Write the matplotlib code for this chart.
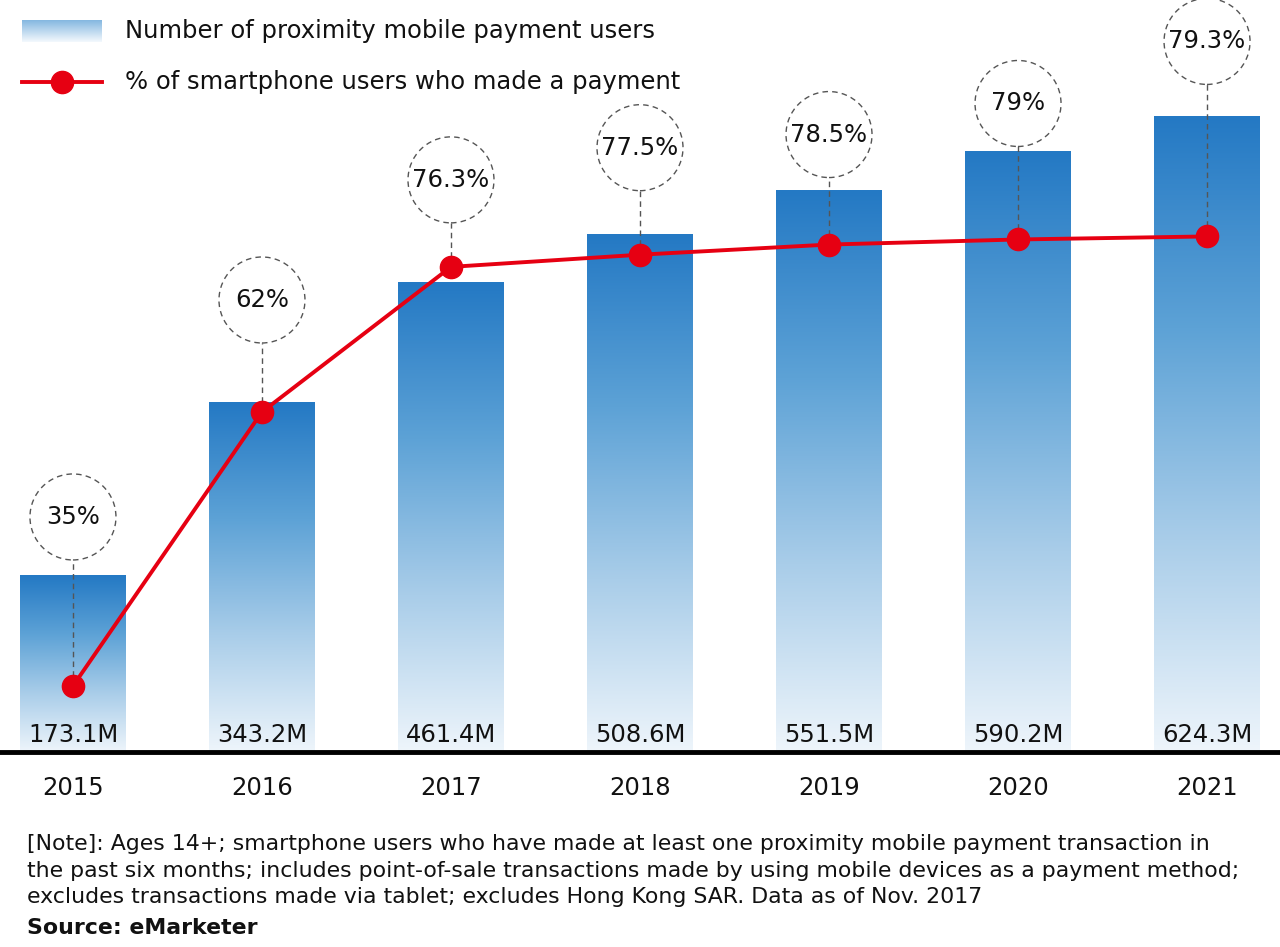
import numpy as np
import matplotlib.pyplot as plt
from matplotlib.colors import LinearSegmentedColormap

plt.rcParams['font.family'] = ['DejaVu Sans']

years = ['2015', '2016', '2017', '2018', '2019', '2020', '2021']
users_m = [173.1, 343.2, 461.4, 508.6, 551.5, 590.2, 624.3]
pct_paid = [35, 62, 76.3, 77.5, 78.5, 79, 79.3]
pct_labels = ['35%', '62%', '76.3%', '77.5%', '78.5%', '79%', '79.3%']

# circle label offset above marker, in pixels (layout only)
label_offset_px = [169, 112, 87, 107, 110, 136, 195]

note = ("[Note]: Ages 14+; smartphone users who have made at least one proximity mobile payment transaction in\n"
        "the past six months; includes point-of-sale transactions made by using mobile devices as a payment method;\n"
        "excludes transactions made via tablet; excludes Hong Kong SAR. Data as of Nov. 2017")

blue_cmap = LinearSegmentedColormap.from_list('bar', ['#2479c4', '#5da2d6', '#a9cde9', '#eef5fb'])
red = '#e60012'
txt = '#111111'
fs = 17.5

fig = plt.figure(figsize=(12.8, 9.47), dpi=100)
ax = fig.add_axes([0, 0.206, 1, 0.794])
x = np.arange(len(years))
bar_w = 0.56

grad = np.linspace(0, 1, 256).reshape(-1, 1)
for xi, v in zip(x, users_m):
    ax.imshow(grad, cmap=blue_cmap, vmin=0, vmax=1, aspect='auto',
              extent=[xi - bar_w / 2, xi + bar_w / 2, 0, v], zorder=1)
    ax.text(xi, 10, f'{v}M', ha='center', va='baseline', fontsize=fs, color=txt, zorder=5)
ax.set_xlim(-0.386, 6.386)
ax.set_ylim(0, 739)

ax.axhline(0, color='black', lw=3.5, zorder=6, clip_on=False)
for s in ax.spines.values():
    s.set_visible(False)
ax.set_yticks([])
ax.set_xticks(x, years)
ax.tick_params(axis='x', length=0, pad=17, labelsize=fs, labelcolor=txt)

ax2 = ax.twinx()
ax2.set_ylim(28.5, 102.6)
ax2.set_yticks([])
for s in ax2.spines.values():
    s.set_visible(False)
ax2.plot(x, pct_paid, color=red, lw=2.8, marker='o', markersize=16, zorder=4)

fig.canvas.draw()
to_disp = ax2.transData
to_data = ax2.transData.inverted()
radius_px = 43
for xi, p, lab, off in zip(x, pct_paid, pct_labels, label_offset_px):
    px, py = to_disp.transform((xi, p))
    _, cy = to_data.transform((px, py + off))
    _, by = to_data.transform((px, py + off - radius_px))
    ax2.plot([xi, xi], [p, by], color='#555555', lw=1, ls=(0, (4, 3)), zorder=2)
    ax2.scatter([xi], [cy], s=(2 * radius_px * 0.72) ** 2, facecolor='white',
                edgecolor='#555555', linewidths=1, linestyles=(0, (4, 3)), zorder=3, clip_on=False)
    ax2.text(xi, cy, lab, ha='center', va='center', fontsize=fs, color=txt, zorder=5)

# legend
lg = fig.add_axes([22 / 1280, 1 - 42 / 947, 80 / 1280, 22 / 947])
lg.imshow(grad, cmap=LinearSegmentedColormap.from_list('lg', ['#7fb4df', '#f4f9fd']),
          aspect='auto', extent=[0, 1, 0, 1])
lg.axis('off')
fig.text(125 / 1280, 1 - 31 / 947, 'Number of proximity mobile payment users',
         fontsize=fs, va='center', color=txt)
fig.lines.append(plt.Line2D([22 / 1280, 102 / 1280], [1 - 82 / 947] * 2, transform=fig.transFigure,
                            color=red, lw=2.8))
fig.lines.append(plt.Line2D([62 / 1280], [1 - 82 / 947], transform=fig.transFigure,
                            color=red, marker='o', markersize=16))
fig.text(125 / 1280, 1 - 82 / 947, '% of smartphone users who made a payment',
         fontsize=fs, va='center', color=txt)

fig.text(27 / 1280, 1 - 834 / 947, note, fontsize=15.8, va='top', linespacing=1.42, color=txt)
fig.text(27 / 1280, 1 - 928 / 947, 'Source: eMarketer', fontsize=15.8, va='center',
         fontweight='bold', color=txt)

fig.savefig('out.png', dpi=100)
